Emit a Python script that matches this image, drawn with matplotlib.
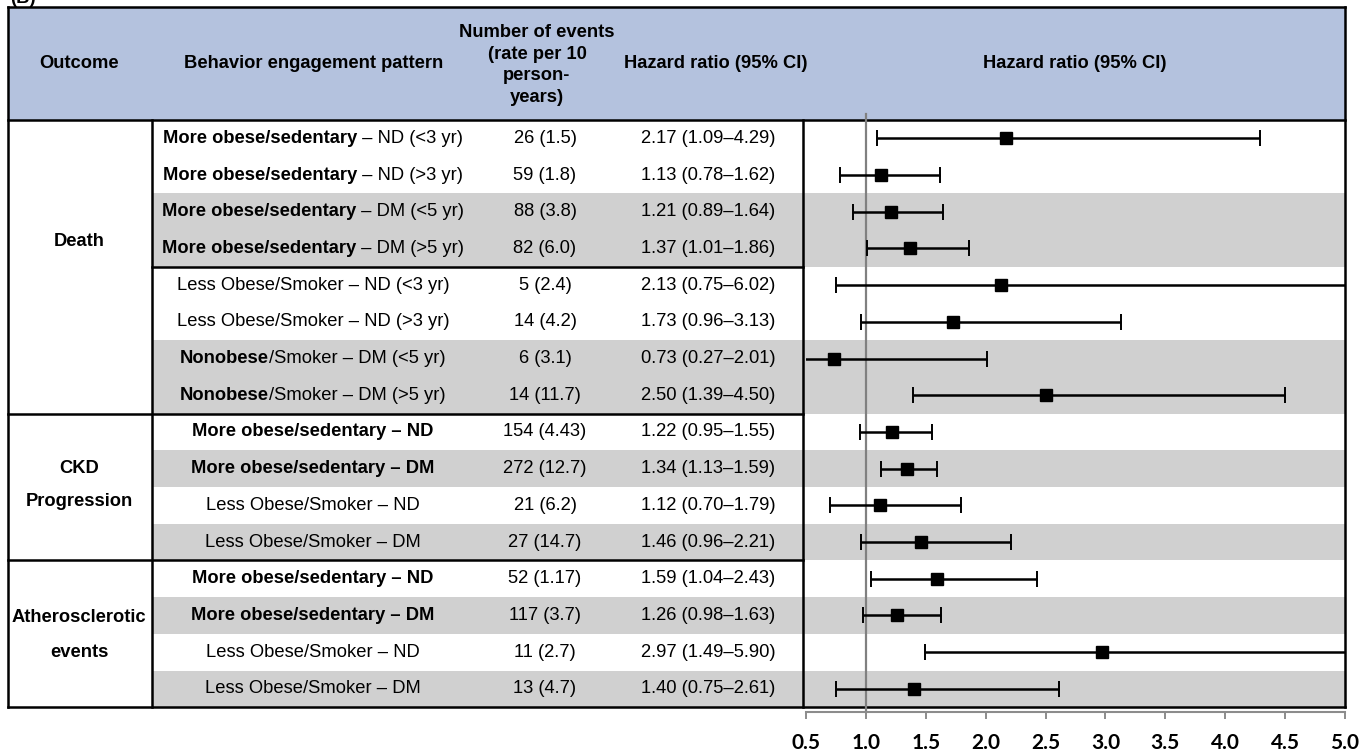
import matplotlib
matplotlib.use("Agg")
import matplotlib.pyplot as plt
from matplotlib.patches import Rectangle

# ---------------- data ----------------
outcomes = ["Death", "CKD\nProgression", "Atherosclerotic\nevents"]
outcome_rows = [8, 4, 4]
patterns_bold = [
    "More obese/sedentary", "More obese/sedentary", "More obese/sedentary", "More obese/sedentary",
    "", "", "Nonobese", "Nonobese",
    "More obese/sedentary – ND", "More obese/sedentary – DM", "", "",
    "More obese/sedentary – ND", "More obese/sedentary – DM", "", "",
]
patterns_rest = [
    " – ND (<3 yr)", " – ND (>3 yr)", " – DM (<5 yr)", " – DM (>5 yr)",
    "Less Obese/Smoker – ND (<3 yr)", "Less Obese/Smoker – ND (>3 yr)", "/Smoker – DM (<5 yr)", "/Smoker – DM (>5 yr)",
    "", "", "Less Obese/Smoker – ND", "Less Obese/Smoker – DM",
    "", "", "Less Obese/Smoker – ND", "Less Obese/Smoker – DM",
]
events = ["26 (1.5)", "59 (1.8)", "88 (3.8)", "82 (6.0)", "5 (2.4)", "14 (4.2)", "6 (3.1)", "14 (11.7)",
          "154 (4.43)", "272 (12.7)", "21 (6.2)", "27 (14.7)",
          "52 (1.17)", "117 (3.7)", "11 (2.7)", "13 (4.7)"]
hr = [2.17, 1.13, 1.21, 1.37, 2.13, 1.73, 0.73, 2.50,
      1.22, 1.34, 1.12, 1.46,
      1.59, 1.26, 2.97, 1.40]
lo = [1.09, 0.78, 0.89, 1.01, 0.75, 0.96, 0.27, 1.39,
      0.95, 1.13, 0.70, 0.96,
      1.04, 0.98, 1.49, 0.75]
hi = [4.29, 1.62, 1.64, 1.86, 6.02, 3.13, 2.01, 4.50,
      1.55, 1.59, 1.79, 2.21,
      2.43, 1.63, 5.90, 2.61]
shaded = [0, 0, 1, 1, 0, 0, 1, 1, 0, 1, 0, 1, 0, 1, 0, 1]
xticks = [0.5, 1.0, 1.5, 2.0, 2.5, 3.0, 3.5, 4.0, 4.5, 5.0]

# ---------------- layout (pixels) ----------------
W, H = 1372, 754
L, R = 8, 1345
HTOP, TOP = 7, 120
ROW_H = 36.7
N = len(hr)
BOT = TOP + N * ROW_H
XC1, XC2 = 152, 803
AXIS_Y = 712
FS = 13.2
HEADER_BG = "#b4c2de"
GREY = "#d0d0d0"

plt.rcParams["font.family"] = ["Liberation Sans", "DejaVu Sans"]

fig = plt.figure(figsize=(W / 100, H / 100), dpi=100)
tab = fig.add_axes([0, 0, 1, 1])
tab.set_xlim(0, W)
tab.set_ylim(H, 0)
tab.axis("off")

# header
tab.add_patch(Rectangle((L, HTOP), R - L, TOP - HTOP, facecolor=HEADER_BG, edgecolor="none", zorder=0))
# shaded rows
for i, s in enumerate(shaded):
    if s:
        tab.add_patch(Rectangle((XC1, TOP + i * ROW_H), R - XC1, ROW_H, facecolor=GREY, edgecolor="none", zorder=0))

lw = 1.8
tab.plot([L, R], [HTOP, HTOP], color="black", lw=lw)
tab.plot([L, R], [TOP, TOP], color="black", lw=lw)
tab.plot([L, R], [BOT, BOT], color="black", lw=lw)
tab.plot([L, L], [HTOP, BOT], color="black", lw=lw)
tab.plot([R, R], [HTOP, BOT], color="black", lw=lw)
tab.plot([XC1, XC1], [TOP, BOT], color="black", lw=lw)
tab.plot([XC2, XC2], [TOP, BOT], color="black", lw=lw)
# group separators
tab.plot([XC1, XC2], [TOP + 4 * ROW_H] * 2, color="black", lw=lw)
cum = 0
for k in outcome_rows[:-1]:
    cum += k
    tab.plot([L, XC2], [TOP + cum * ROW_H] * 2, color="black", lw=lw)

# "(B)" label, partly cut by the top edge as in the original
tab.text(10, 3, "(B)", fontsize=FS, fontweight="bold", ha="left", va="baseline")

# header texts
hy = 63
tab.text(79, hy, "Outcome", fontsize=FS, fontweight="bold", ha="center", va="center")
tab.text(314, hy, "Behavior engagement pattern", fontsize=FS, fontweight="bold", ha="center", va="center")
tab.text(537, 65, "Number of events\n(rate per 10\nperson-\nyears)", fontsize=FS, fontweight="bold",
         ha="center", va="center", linespacing=1.36)
tab.text(716, hy, "Hazard ratio (95% CI)", fontsize=FS, fontweight="bold", ha="center", va="center")
tab.text(1075, hy, "Hazard ratio (95% CI)", fontsize=FS, fontweight="bold", ha="center", va="center")

# outcome labels
tab.text(79, 242, outcomes[0], fontsize=FS, fontweight="bold", ha="center", va="center")
tab.text(79, 485, outcomes[1], fontsize=FS, fontweight="bold", ha="center", va="center", linespacing=2.25)
tab.text(79, 635, outcomes[2], fontsize=FS, fontweight="bold", ha="center", va="center", linespacing=2.45)

# rows
renderer = fig.canvas.get_renderer()
PC = 313
for i in range(N):
    yc = TOP + (i + 0.5) * ROW_H
    b, r = patterns_bold[i], patterns_rest[i]
    tb = tab.text(0, yc, b, fontsize=FS, fontweight="bold", ha="left", va="center")
    tr = tab.text(0, yc, r, fontsize=FS, ha="left", va="center")
    wb = tb.get_window_extent(renderer).width if b else 0
    wr = tr.get_window_extent(renderer).width if r else 0
    x0 = PC - (wb + wr) / 2
    tb.set_x(x0)
    tr.set_x(x0 + wb)
    tab.text(545, yc, events[i], fontsize=FS, ha="center", va="center")
    tab.text(708, yc, f"{hr[i]:.2f} ({lo[i]:.2f}–{hi[i]:.2f})", fontsize=FS, ha="center", va="center")

# ---------------- forest plot ----------------
x0p, x1p = 806, R
fx = fig.add_axes([x0p / W, 1 - AXIS_Y / H, (x1p - x0p) / W, (AXIS_Y - TOP) / H])
fx.patch.set_visible(False)
fx.set_xlim(0.5, 5.0)
fx.set_ylim((AXIS_Y - TOP) / ROW_H, 0)
ys = [i + 0.5 for i in range(N)]
fx.axvline(1.0, ymin=0, ymax=1 + 6 / (AXIS_Y - TOP), color="#808080", lw=1.6, clip_on=False, zorder=1)
xerr = [[h - l for h, l in zip(hr, lo)], [u - h for h, u in zip(hr, hi)]]
fx.errorbar(hr, ys, xerr=xerr, fmt="s", color="black", ecolor="black", elinewidth=1.8,
            capsize=5.5, capthick=1.4, markersize=8.5, zorder=3)
for s in ["top", "left", "right"]:
    fx.spines[s].set_visible(False)
fx.spines["bottom"].set_color("#8c8c8c")
fx.spines["bottom"].set_linewidth(1.5)
fx.set_yticks([])
fx.set_xticks(xticks)
fx.set_xticklabels([f"{t:.1f}" for t in xticks], fontsize=15, fontweight="bold", family=["Lato", "DejaVu Sans"])
fx.tick_params(axis="x", direction="out", length=5, width=1.4, color="#8c8c8c", pad=10)

fig.savefig("out.png", dpi=100)
